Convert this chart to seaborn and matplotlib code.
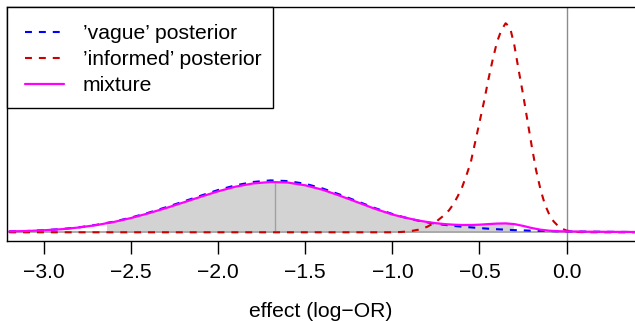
import matplotlib
matplotlib.use("Agg")
import matplotlib.pyplot as plt
import matplotlib.patches as mpatches
import numpy as np
import pandas as pd
import seaborn as sns

# grid for the 'vague' posterior and the mixture (finer where the two differ)
x_grid = [-3.2, -3.1, -3.0, -2.9, -2.8, -2.7, -2.6, -2.5, -2.4, -2.3, -2.2,
          -2.1, -2.0, -1.9, -1.8, -1.7, -1.6, -1.5, -1.4, -1.3, -1.2, -1.1,
          -1.0, -0.95, -0.9, -0.85, -0.8, -0.75, -0.7, -0.65, -0.6, -0.55,
          -0.5, -0.45, -0.4, -0.35, -0.3, -0.25, -0.2, -0.15, -0.1, -0.05,
          0.0, 0.05, 0.1, 0.2, 0.3, 0.4]

vague_density = [0.014, 0.020, 0.033, 0.050, 0.077, 0.116, 0.166, 0.230,
                 0.306, 0.391, 0.480, 0.572, 0.661, 0.734, 0.786, 0.811,
                 0.800, 0.758, 0.684, 0.588, 0.483, 0.378,
                 0.286, 0.247, 0.211, 0.181, 0.155, 0.134, 0.116, 0.100,
                 0.088, 0.077, 0.066, 0.056, 0.048, 0.041, 0.034, 0.030,
                 0.025, 0.022, 0.019, 0.016, 0.014, 0.0125, 0.011, 0.008,
                 0.006, 0.005]

mixture_density = [0.014, 0.020, 0.032, 0.048, 0.075, 0.112, 0.161, 0.223,
                   0.297, 0.378, 0.466, 0.555, 0.641, 0.713, 0.763, 0.786,
                   0.777, 0.734, 0.664, 0.570, 0.469, 0.367,
                   0.278, 0.244, 0.213, 0.184, 0.161, 0.142, 0.128, 0.119,
                   0.114, 0.114, 0.119, 0.128, 0.136, 0.139, 0.128, 0.100,
                   0.067, 0.041, 0.025, 0.017, 0.014, 0.0125, 0.0095, 0.008,
                   0.006, 0.005]

# 'informed' posterior, sampled densely around its narrow peak
x_informed = [-3.2, -2.0, -1.0, -0.95, -0.9, -0.85, -0.8, -0.75, -0.7,
              -0.675, -0.65, -0.625, -0.6, -0.575, -0.55, -0.525, -0.5,
              -0.475, -0.45, -0.425, -0.4, -0.375, -0.35, -0.325, -0.3,
              -0.275, -0.25, -0.225, -0.2, -0.175, -0.15, -0.125, -0.1,
              -0.075, -0.05, -0.025, 0.0, 0.05, 0.1, 0.2, 0.4]
informed_density = [0.0, 0.0, 0.0, 0.005, 0.016, 0.041, 0.086, 0.164, 0.273,
                    0.344, 0.438, 0.563, 0.703, 0.891, 1.094, 1.406, 1.719,
                    2.031, 2.375, 2.688, 2.969, 3.156, 3.266, 3.203, 2.922,
                    2.531, 2.156, 1.750, 1.344, 0.969, 0.672, 0.438, 0.281,
                    0.172, 0.102, 0.055, 0.027, 0.006, 0.002, 0.0, 0.0]

# summary of the mixture: shaded interval and median
interval_low, interval_high = -2.64, -0.31
mixture_median = -1.674
mixture_at_median = 0.786

series_labels = ["\u2019vague\u2019 posterior", "\u2019informed\u2019 posterior", "mixture"]
series_colors = ["#0000FF", "#CD0000", "#FF00FF"]
tick_values = [-3.0, -2.5, -2.0, -1.5, -1.0, -0.5, 0.0]
tick_labels = ["\u22123.0", "\u22122.5", "\u22122.0", "\u22121.5", "\u22121.0", "\u22120.5", "0.0"]
x_label = "effect (log\u2212OR)"

sns.set_theme(style="white")
plt.rcParams["font.family"] = ["Liberation Sans", "DejaVu Sans"]
plt.rcParams["lines.scale_dashes"] = False
plt.rcParams["text.color"] = "black"
plt.rcParams["axes.labelcolor"] = "black"
plt.rcParams["xtick.color"] = "black"
FS = 15.2
W, H = 635, 321

df_main = pd.DataFrame({"x": x_grid, "vague": vague_density, "mixture": mixture_density})
df_inf = pd.DataFrame({"x": x_informed, "informed": informed_density})

fig = plt.figure(figsize=(W / 100, H / 100), dpi=100)
ax = fig.add_axes([7 / W, 80 / H, 628 / W, 234 / H])

# shaded interval under the mixture density
fill = ax.fill_between(df_main["x"], 0, df_main["mixture"], color="#D3D3D3", lw=0, zorder=1)
clip = mpatches.Rectangle((interval_low, -1), interval_high - interval_low, 10,
                          transform=ax.transData, visible=False)
ax.add_patch(clip)
fill.set_clip_path(clip)

ax.vlines(mixture_median, 0, mixture_at_median, color="#A0A0A0", lw=1.0, zorder=2)
ax.axhline(0, color="#A6A6A6", lw=1.3, zorder=2)
ax.axvline(0, color="#8C8C8C", lw=1.0, zorder=2)

dash = (0, (5.0, 5.0))
sns.lineplot(data=df_main, x="x", y="vague", ax=ax, color=series_colors[0], lw=1.5,
             linestyle=dash, sort=False, estimator=None, label=series_labels[0], zorder=3)
sns.lineplot(data=df_inf, x="x", y="informed", ax=ax, color=series_colors[1], lw=1.5,
             linestyle=dash, sort=False, estimator=None, label=series_labels[1], zorder=3)
sns.lineplot(data=df_main, x="x", y="mixture", ax=ax, color=series_colors[2], lw=1.6,
             sort=False, estimator=None, label=series_labels[2], zorder=4)

ax.set_xlim(-3.2124, 0.3927)
ax.set_ylim(-0.136, 3.52)
ax.set_xticks(tick_values)
ax.set_xticklabels(tick_labels, fontsize=FS)
ax.set_yticks([])
ax.set_ylabel("")
ax.set_xlabel(x_label, fontsize=FS, labelpad=14)
ax.tick_params(axis="x", direction="out", length=9.5, width=1.0, color="black",
               pad=6.5, bottom=True)
for side in ["left", "top", "bottom"]:
    ax.spines[side].set_visible(True)
    ax.spines[side].set_color("black")
    ax.spines[side].set_linewidth(1.0)
ax.spines["right"].set_visible(False)

# legend box: white rectangle with a black border behind the legend entries
box = mpatches.Rectangle((7 / W, 1 - 108 / H), 266 / W, 101 / H, transform=fig.transFigure,
                         facecolor="white", edgecolor="black", lw=1.0, zorder=5,
                         clip_on=False)
ax.add_patch(box)

leg = ax.legend(loc="upper left", bbox_to_anchor=(25 / W, 1 - 24 / H),
                bbox_transform=fig.transFigure, borderaxespad=0, borderpad=0,
                fontsize=FS, frameon=False, handlelength=1.85,
                handletextpad=0.9, labelspacing=0.33)
leg.set_zorder(6)

fig.savefig("out.png", dpi=100)
